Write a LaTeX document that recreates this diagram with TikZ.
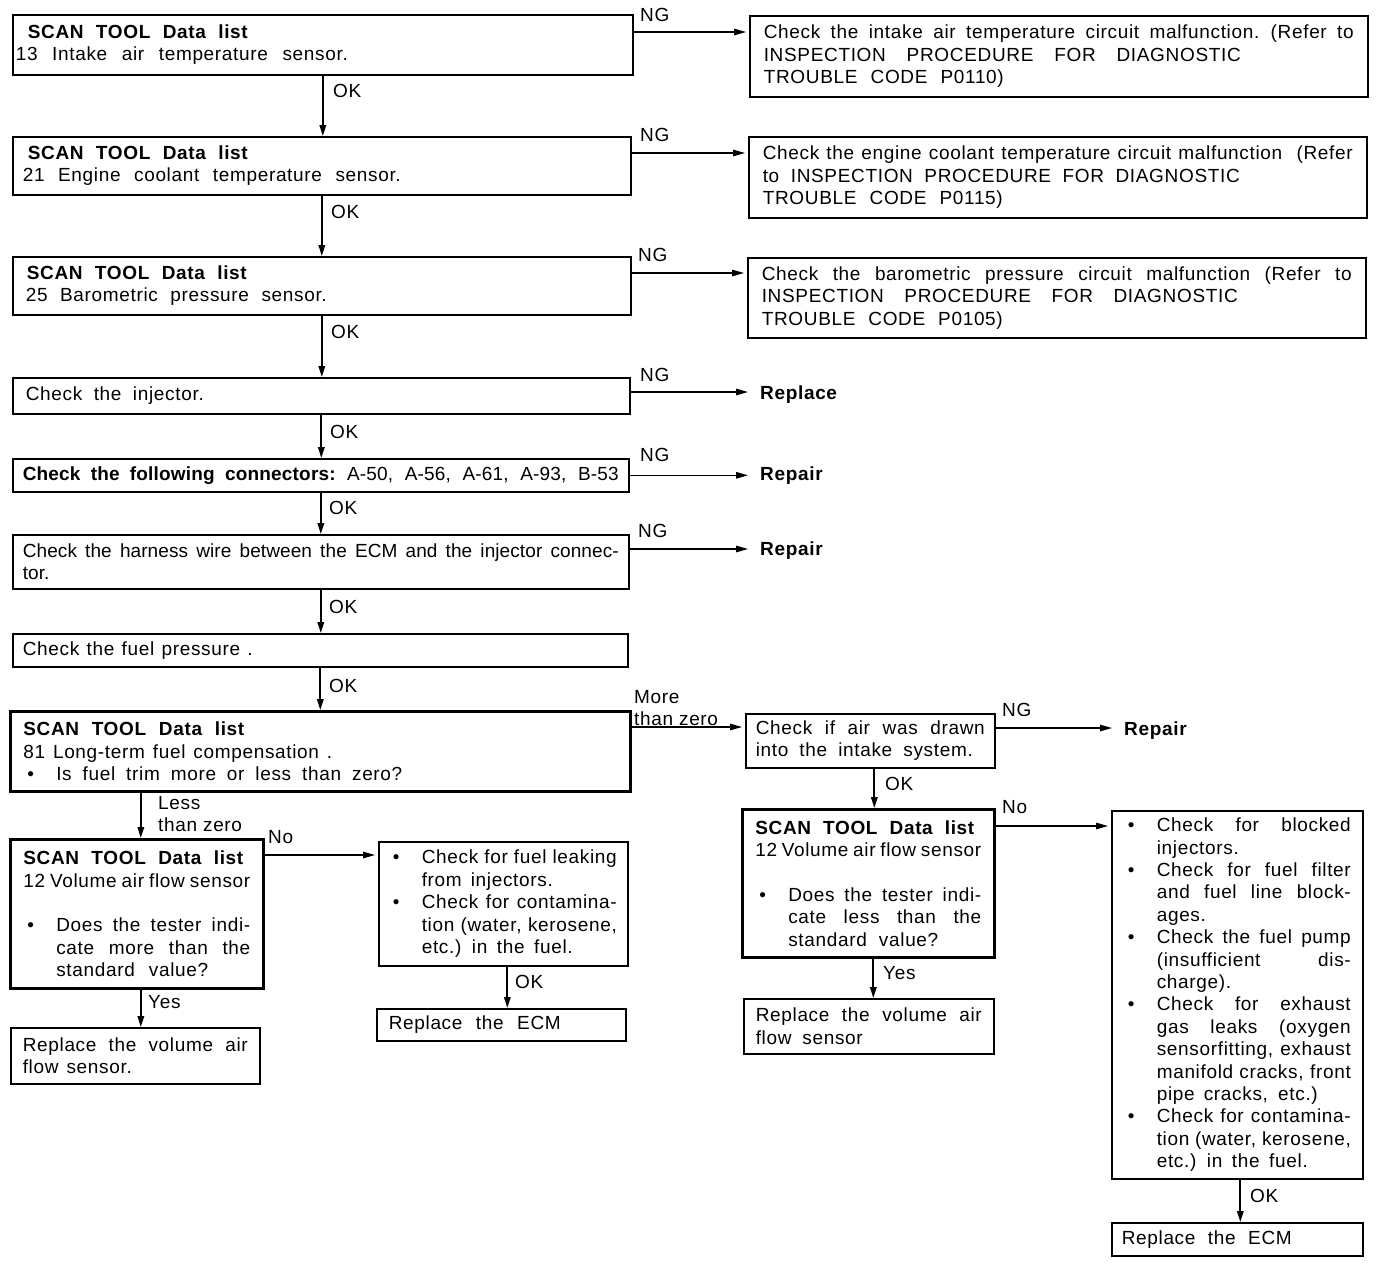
\documentclass[tikz,border=0pt]{standalone}
\usepackage{fontspec}
\setmainfont{Liberation Sans}[LetterSpace=3.5]
\usetikzlibrary{arrows.meta,calc}
\newcommand\W[2]{\makebox[#1pt][s]{\spaceskip=0.25em plus 1fil minus 0.12em\xspaceskip=0.3em plus 1fil minus 0.12em #2}}
\newcommand\Bu[2]{\makebox[33pt][l]{\hspace*{4pt}\textbullet}\W{#1}{#2}}
\newcommand\In[2]{\hspace*{33pt}\W{#1}{#2}}
\newcommand\Nn[1]{\hspace*{33pt}#1}
\tikzset{
  fnt/.style={font=\fontsize{19}{22.4}\selectfont},
  box/.style={draw, line width=1.6pt, inner ysep=0pt, align=left, anchor=north west, fnt},
  thick box/.style={box, line width=2.6pt},
  lab/.style={inner sep=0pt, anchor=base west, fnt},
  blab/.style={lab, font=\fontsize{19}{22.4}\selectfont\bfseries},
  harr/.style={line width=1.2pt, -{Triangle[length=12pt,width=6.5pt]}, shorten >=3pt},
  tarr/.style={line width=1.2pt, -{Triangle[length=12pt,width=6.5pt]}, shorten >=12pt},
  varr/.style={line width=1.8pt, -{Triangle[length=11pt,width=6.5pt]}}
}
\begin{document}
\begin{tikzpicture}[x=1pt,y=-1pt]
\path[use as bounding box] (0,0) rectangle (1376,1262);

% main column
\node[box, inner xsep=12pt, text width=596pt, minimum height=60pt] (b1) at (12,14)
 {\hspace*{3pt}\W{220}{\bfseries SCAN TOOL Data list}\\ \hspace*{-9pt}\W{332}{13 Intake air temperature sensor.}};
\node[box, inner xsep=14pt, text width=590pt, minimum height=81pt] (r1) at (749,15)
 {\W{590}{Check the intake air temperature circuit malfunction. (Refer to}\\ \W{477}{INSPECTION PROCEDURE FOR DIAGNOSTIC}\\ \W{240}{TROUBLE CODE P0110)}};

\node[box, inner xsep=12pt, text width=594pt, minimum height=58pt] (b2) at (12,136)
 {\hspace*{3pt}\W{220}{\bfseries SCAN TOOL Data list}\\ \hspace*{-2pt}\W{378}{21 Engine coolant temperature sensor.}};
\node[box, inner xsep=14pt, text width=590pt, minimum height=81pt] (r2) at (748,136)
 {\W{590}{Check the engine coolant temperature circuit malfunction \ (Refer}\\ \W{477}{to INSPECTION PROCEDURE FOR DIAGNOSTIC}\\ \W{240}{TROUBLE CODE P0115)}};

\node[box, inner xsep=12pt, text width=594pt, minimum height=58pt] (b3) at (12,256)
 {\hspace*{2pt}\W{220}{\bfseries SCAN TOOL Data list}\\ \hspace*{1pt}\W{301}{25 Barometric pressure sensor.}};
\node[box, inner xsep=14pt, text width=590pt, minimum height=80pt] (r3) at (747,257)
 {\W{590}{Check the barometric pressure circuit malfunction (Refer to}\\ \W{476}{INSPECTION PROCEDURE FOR DIAGNOSTIC}\\ \W{241}{TROUBLE CODE P0105)}};

\node[box, inner xsep=12pt, text width=593pt, minimum height=36pt] (inj) at (12,377)
 {\hspace*{1pt}\W{178}{Check the injector.}};
\node[box, inner xsep=10pt, text width=596pt, minimum height=33pt] (con) at (12,458)
 {\addfontfeature{LetterSpace=1}\W{596}{\textbf{Check the following connectors:} A-50, A-56, A-61, A-93, B-53}};
\node[box, inner xsep=10pt, text width=596pt, minimum height=54pt] (har) at (12,534)
 {\addfontfeature{LetterSpace=0.5}\W{596}{Check the harness wire between the ECM and the injector connec-}\\ tor.};
\node[box, inner xsep=10pt, text width=595pt, minimum height=33pt] (fp) at (12,633)
 {\W{230}{Check the fuel pressure .}};

\node[thick box, inner xsep=13pt, text width=594pt, minimum height=80pt] (s81) at (9,710)
 {\W{221}{\bfseries SCAN TOOL Data list}\\ \W{309}{81 Long-term fuel compensation .}\\ \Bu{346}{Is fuel trim more or less than zero?}};

% right branch
\node[box, inner xsep=10pt, text width=229pt, minimum height=54pt] (ca) at (745,713)
 {\W{229}{Check if air was drawn}\\ \W{217}{into the intake system.}};
\node[thick box, inner xsep=13pt, text width=226pt, minimum height=148pt] (s12r) at (741,808)
 {\W{219}{\bfseries SCAN TOOL Data list}\\ \W{226}{12 Volume air flow sensor}\\[22.4pt] \Bu{193}{Does the tester indi-}\\ \In{193}{cate less than the}\\ \In{150}{standard value?}};
\node[box, inner xsep=12pt, text width=226pt, minimum height=55pt] (rvr) at (743,998)
 {\W{226}{Replace the volume air}\\ \W{107}{flow sensor}};
\node[box, inner xsep=12pt, text width=227pt, minimum height=368pt] (bb) at (1111,810)
 {\Bu{194}{Check for blocked}\\ \Nn{injectors.}\\ \Bu{194}{Check for fuel filter}\\ \In{194}{and fuel line block-}\\ \Nn{ages.}\\ \Bu{194}{Check the fuel pump}\\ \In{194}{(insufficient dis-}\\ \Nn{charge).}\\ \Bu{194}{Check for exhaust}\\ \In{194}{gas leaks (oxygen}\\ \In{194}{sensorfitting, exhaust}\\ \In{194}{manifold cracks, front}\\ \In{161}{pipe cracks, etc.)}\\ \Bu{194}{Check for contamina-}\\ \In{194}{tion (water, kerosene,}\\ \In{151}{etc.) in the fuel.}};
\node[box, inner xsep=10pt, text width=231pt, minimum height=33pt] (ecm2) at (1111,1222)
 {\W{170}{Replace the ECM}};

% left branch
\node[thick box, inner xsep=13pt, text width=227pt, minimum height=149pt] (s12l) at (9,838)
 {\W{220}{\bfseries SCAN TOOL Data list}\\ \W{227}{12 Volume air flow sensor}\\[22.4pt] \Bu{194}{Does the tester indi-}\\ \In{194}{cate more than the}\\ \In{152}{standard value?}};
\node[box, inner xsep=10pt, text width=229pt, minimum height=124pt] (fl) at (378,841)
 {\Bu{195}{Check for fuel leaking}\\ \In{131}{from injectors.}\\ \Bu{195}{Check for contamina-}\\ \In{195}{tion (water, kerosene,}\\ \In{151}{etc.) in the fuel.}};
\node[box, inner xsep=12pt, text width=225pt, minimum height=32pt] (ecm1) at (376,1008)
 {\W{172}{Replace the ECM}};
\node[box, inner xsep=12pt, text width=225pt, minimum height=56pt] (rvl) at (10,1027)
 {\W{225}{Replace the volume air}\\ \W{109}{flow sensor.}};

% end labels
\node[blab] (rep1) at (760,399) {Replace};
\node[blab] (rep2) at (760,480) {Repair};
\node[blab] (rep3) at (760,555) {Repair};
\node[blab] (rep4) at (1124,735) {Repair};

% connector labels
\node[lab] (ng1) at (640,21) {NG};
\node[lab] (ng2) at (640,141) {NG};
\node[lab] (ng3) at (638,261) {NG};
\node[lab] (ng4) at (640,381) {NG};
\node[lab] (ng5) at (640,461) {NG};
\node[lab] (ng6) at (638,537) {NG};
\node[lab] (ok1) at (333,97) {OK};
\node[lab] (ok2) at (331,218) {OK};
\node[lab] (ok3) at (331,338) {OK};
\node[lab] (ok4) at (330,438) {OK};
\node[lab] (ok5) at (329,514) {OK};
\node[lab] (ok6) at (329,613) {OK};
\node[lab] (ok7) at (329,692) {OK};
\node[lab] (mz1) at (634,703) {More};
\node[lab] (mz2) at (634,725) {than zero};
\node[lab] (ng7) at (1002,716) {NG};
\node[lab] (ok8) at (885,790) {OK};
\node[lab] (lz1) at (158,809) {Less};
\node[lab] (lz2) at (158,831) {than zero};
\node[lab] (no1) at (268,843) {No};
\node[lab] (no2) at (1002,813) {No};
\node[lab] (yes1) at (148,1008) {Yes};
\node[lab] (ok9) at (515,988) {OK};
\node[lab] (yes2) at (883,979) {Yes};
\node[lab] (ok10) at (1250,1202) {OK};

% horizontal connectors
\draw[harr] ([yshift=-18pt]b1.north east) coordinate (t1) -- (t1 -| r1.west);
\draw[harr] ([yshift=-17pt]b2.north east) coordinate (t2) -- (t2 -| r2.west);
\draw[harr] ([yshift=-17pt]b3.north east) coordinate (t3) -- (t3 -| r3.west);
\draw[tarr] ([yshift=-15pt]inj.north east) coordinate (t4) -- (t4 -| rep1.west);
\draw[tarr] (con.east) coordinate (t5) -- (t5 -| rep2.west);
\draw[tarr] ([yshift=-15pt]har.north east) coordinate (t6) -- (t6 -| rep3.west);
\draw[harr] ([yshift=-17pt]s81.north east) coordinate (t7) -- (t7 -| ca.west);
\draw[tarr] ([yshift=-15pt]ca.north east) coordinate (t8) -- (t8 -| rep4.west);
\draw[harr] ([yshift=-17pt]s12l.north east) coordinate (t9) -- (t9 -| fl.west);
\draw[harr] ([yshift=-18pt]s12r.north east) coordinate (t10) -- (t10 -| bb.west);

% vertical connectors
\draw[varr] (b1.south) -- (b1.south |- b2.north);
\draw[varr] (b2.south) -- (b2.south |- b3.north);
\draw[varr] (b3.south) -- (b3.south |- inj.north);
\draw[varr] (inj.south) -- (inj.south |- con.north);
\draw[varr] (con.south) -- (con.south |- har.north);
\draw[varr] (har.south) -- (har.south |- fp.north);
\draw[varr] (fp.south) -- (fp.south |- s81.north);
\draw[varr] ([xshift=4pt]s12l.north |- s81.south) -- ([xshift=4pt]s12l.north);
\draw[varr] ([xshift=4pt]s12l.south) -- ([xshift=4pt]s12l.south |- rvl.north);
\draw[varr] ([xshift=4pt]fl.south) -- ([xshift=4pt]fl.south |- ecm1.north);
\draw[varr] ([xshift=4pt]ca.south) -- ([xshift=4pt]ca.south |- s12r.north);
\draw[varr] ([xshift=5pt]s12r.south) -- ([xshift=5pt]s12r.south |- rvr.north);
\draw[varr] ([xshift=3pt]bb.south) -- ([xshift=3pt]bb.south |- ecm2.north);
\end{tikzpicture}
\end{document}
